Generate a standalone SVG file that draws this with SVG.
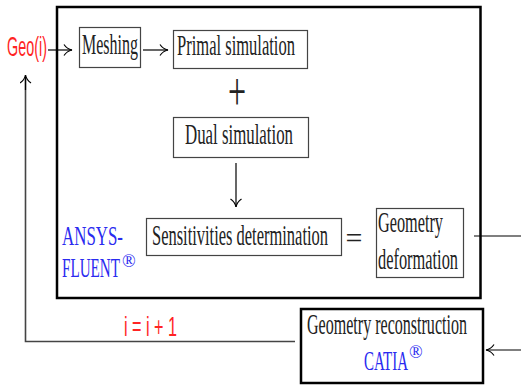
<svg xmlns="http://www.w3.org/2000/svg" width="521" height="385" viewBox="0 0 521 385">
<style>
.bg{fill:#fff}
.box{fill:none;stroke:#444;stroke-width:1.2}
.big{fill:none;stroke:#000;stroke-width:2.5}
.ln{fill:none;stroke:#000;stroke-width:1.2}
.gl{fill:none;stroke:#444;stroke-width:1.6}
.t{font-family:"Liberation Serif","DejaVu Serif",serif;font-size:30px;fill:#222}
.b{font-family:"Liberation Serif","DejaVu Serif",serif;font-size:28px;fill:#2a2af0}
.r{font-family:"Liberation Sans","DejaVu Sans",sans-serif;font-size:28px;fill:#ff2424}
.sup{font-family:"Liberation Serif","DejaVu Serif",serif;font-size:18px;fill:#2a2af0}
</style>
<defs>
<marker id="ah" viewBox="0 0 10 12" refX="9" refY="6" markerWidth="10" markerHeight="12" markerUnits="userSpaceOnUse" orient="auto">
<path d="M1,0.5 Q4,5 9,6 Q4,7 1,11.5" fill="none" stroke="#000" stroke-width="1.2"/>
</marker>
</defs>
<rect class="bg" width="521" height="385"/>
<rect class="big" x="57" y="7" width="423.5" height="291"/>
<g id="geo">
<text class="r" transform="translate(7,56) scale(0.56,1)" textLength="71.4" lengthAdjust="spacingAndGlyphs">Geo(i)</text>
</g>
<g id="meshing">
<rect class="box" x="79.5" y="27.5" width="61" height="40"/>
<text class="t" transform="translate(82,54) scale(0.56,1)" textLength="100" lengthAdjust="spacingAndGlyphs">Meshing</text>
</g>
<g id="primal">
<rect class="box" x="173.5" y="30.5" width="134" height="38"/>
<text class="t" transform="translate(177,55) scale(0.56,1)" textLength="210.7" lengthAdjust="spacingAndGlyphs">Primal simulation</text>
</g>
<g id="plus">
<text class="t" transform="translate(237,110) scale(1.07,1.8)" text-anchor="middle" style="font-size:30px">+</text>
</g>
<g id="dual">
<rect class="box" x="173.5" y="117.5" width="135" height="40"/>
<text class="t" transform="translate(185,144) scale(0.56,1)" textLength="192.9" lengthAdjust="spacingAndGlyphs">Dual simulation</text>
</g>
<g id="sens">
<rect class="box" x="146.5" y="218.5" width="195" height="37"/>
<text class="t" transform="translate(152,245) scale(0.56,1)" textLength="314.3" lengthAdjust="spacingAndGlyphs">Sensitivities determination</text>
</g>
<g id="equals">
<text class="t" x="354" y="248" text-anchor="middle" style="font-size:30px">=</text>
</g>
<g id="deform">
<rect class="box" x="376.5" y="208.5" width="87" height="69"/>
<text class="t" transform="translate(378,232) scale(0.56,1)" textLength="116" lengthAdjust="spacingAndGlyphs">Geometry</text>
<text class="t" transform="translate(378,269) scale(0.56,1)" textLength="142.9" lengthAdjust="spacingAndGlyphs">deformation</text>
</g>
<g id="ansys">
<text class="b" transform="translate(62,245) scale(0.52,1)" textLength="117.3" lengthAdjust="spacingAndGlyphs">ANSYS-</text>
<text class="b" transform="translate(62,277) scale(0.52,1)" textLength="111.5" lengthAdjust="spacingAndGlyphs">FLUENT</text>
<text class="sup" x="122" y="267">®</text>
</g>
<g id="recon">
<rect class="big" x="301" y="309" width="182" height="74"/>
<text class="t" transform="translate(307,334) scale(0.56,1)" textLength="285.7" lengthAdjust="spacingAndGlyphs">Geometry reconstruction</text>
<text class="b" transform="translate(364,370) scale(0.52,1)" textLength="84.6" lengthAdjust="spacingAndGlyphs">CATIA</text>
<text class="sup" x="409" y="358">®</text>
</g>
<g id="incr">
<text class="r" transform="translate(124,336) scale(0.56,1)" textLength="94.6" lengthAdjust="spacingAndGlyphs">i = i + 1</text>
</g>
<g id="connectors">
<line class="ln" x1="48" y1="50" x2="72" y2="50" marker-end="url(#ah)"/>
<line class="ln" x1="143" y1="50" x2="168" y2="50" marker-end="url(#ah)"/>
<line class="ln" x1="236" y1="163" x2="236" y2="207" marker-end="url(#ah)"/>
<line class="ln" x1="474" y1="236" x2="521" y2="236"/>
<line class="ln" x1="521" y1="350" x2="486" y2="350" marker-end="url(#ah)"/>
<polyline class="gl" points="295,341.5 25.5,341.5 25.5,77"/>
<line class="ln" x1="25.5" y1="90" x2="25.5" y2="75" marker-end="url(#ah)"/>
</g>
</svg>
